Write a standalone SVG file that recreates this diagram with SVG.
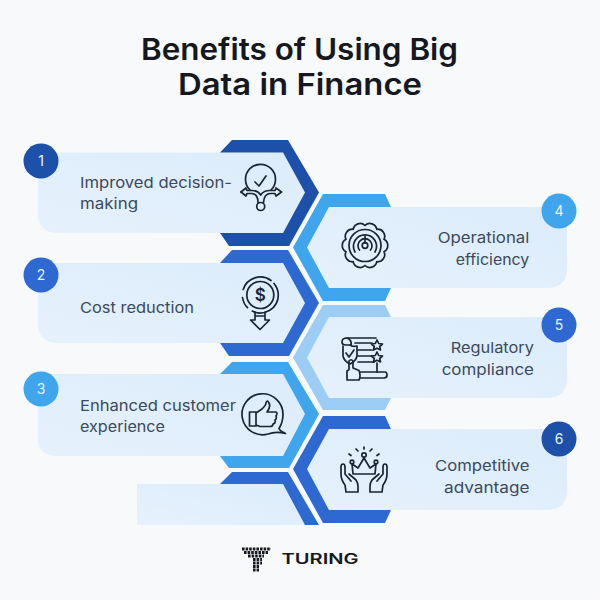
<svg xmlns="http://www.w3.org/2000/svg" width="600" height="600" viewBox="0 0 600 600">
<style>
text{font-family:Inter,"Liberation Sans",sans-serif}
.t{font-size:30px;font-weight:600;fill:#15181e}
.l{font-size:15px;fill:#3b4a5c}
.n{font-size:14px;fill:#e8f3fd;text-anchor:middle}
.b{fill:url(#g)}
.i{fill:none;stroke:#1a2433;stroke-width:1.7;stroke-linecap:round;stroke-linejoin:round}
.d{fill:none;stroke:#15181e;stroke-width:2.8;stroke-dasharray:2.6 1}
.c1{fill:#1d50a8}.c2{fill:#2d69d0}.c3{fill:#3fa6ee}.c5{fill:#9ccdf5}
</style>
<defs><linearGradient id="g" x1="0" y1="1" x2="1" y2="0"><stop offset="0" stop-color="#e6f1fc"/><stop offset="1" stop-color="#dcecfb"/></linearGradient></defs>
<rect width="600" height="600" fill="#f8f9fb"/>
<g id="title">
<text class="t" x="141" y="60" textLength="317" lengthAdjust="spacingAndGlyphs">Benefits of Using Big</text>
<text class="t" x="178" y="95" textLength="244" lengthAdjust="spacingAndGlyphs">Data in Finance</text>
</g>
<g id="node-1">
<path class="b" d="M50 152.500H283L305 192.500L283 233H58Q38 233 38 213V164Q38 152.500 50 152.500Z"/>
<path class="c1" d="M220 152.500L232 140H288L319 192.500L289 246H229L220 233H283L305 192.500L283 152.500Z"/>
<circle class="c1" cx="41" cy="161" r="17.500"/><text class="n" x="41" y="166">1</text>
<text class="l" x="80" y="188" textLength="152" lengthAdjust="spacingAndGlyphs">Improved decision-</text>
<text class="l" x="80" y="209" textLength="58" lengthAdjust="spacingAndGlyphs">making</text>
<g class="i"><path d="M250 190A15 15 0 1 1 271 190"/><path d="M255 182L259 186L266 176"/><path d="M241 192L246 188L247 190.500H252Q258 190.500 260.700 195Q263.500 190.500 270 190.500H275L276 188L281.500 192L276 196L275 193.500H270Q264 194 263.500 202.500"/><path d="M241 192L246 196L247 193.500H252Q258 194 258 202.500"/><circle cx="260.700" cy="206.500" r="4"/></g>
</g>
<g id="node-2">
<path class="b" d="M50 263H283L305 303L283 343H58Q38 343 38 323V275Q38 263 50 263Z"/>
<path class="c2" d="M220 263L232 250H288L319 303L289 356H229L220 343H283L305 303L283 263Z"/>
<circle class="c2" cx="41" cy="275" r="17.500"/><text class="n" x="41" y="280">2</text>
<text class="l" x="80" y="313" textLength="114" lengthAdjust="spacingAndGlyphs">Cost reduction</text>
<g class="i"><circle cx="260.300" cy="295" r="13.500"/><path d="M243.200 289.500A18 18 0 0 1 271 280.500M274 283.500A18 18 0 0 1 278.300 295A18 18 0 0 1 252.300 311.100M247.500 307.700A18 18 0 0 1 242.500 297.500"/><path d="M255 312V320H250.500L260 329.500L269.500 320H265V312M255 316H265"/></g>
<text x="260.300" y="301" font-size="17" font-weight="600" fill="#1a2433" text-anchor="middle">$</text>
</g>
<g id="node-3">
<path class="b" d="M50 374H283L305 414L283 456H58Q38 456 38 440V386Q38 374 50 374Z"/>
<path class="c3" d="M220 374L232 362H288L319 414L289 468H229L220 456H283L305 414L283 374Z"/>
<circle class="c3" cx="41" cy="389" r="17.500"/><text class="n" x="41" y="394">3</text>
<text class="l" x="80" y="411" textLength="156" lengthAdjust="spacingAndGlyphs">Enhanced customer</text>
<text class="l" x="80" y="432" textLength="85" lengthAdjust="spacingAndGlyphs">experience</text>
<g class="i"><path d="M279 428.500Q283 422 283 414.500A20.500 20.500 0 1 0 268 434Q276 431 285.500 433.500Q280 431 279 428.500Z"/><path d="M249.500 412H256V426H249.500ZM256 413L262 409Q266 405 266 403Q267 399 269 403Q271 407 267 412H276Q278 413 276 416Q277 419 275 420Q276 423 273 424Q273 426.500 270 426.500H260L256 425"/></g>
</g>
<g id="node-7">
<path class="b" d="M137 484H283L305 525H137Z"/>
<path class="c2" d="M220 484L232 472H288L319 525H305L283 484Z"/>
</g>
<g id="node-4">
<path class="b" d="M329 207H548Q567 207 567 225V268Q567 288 547 288H329L307 247.500Z"/>
<path class="c3" d="M391 207L385 194H323L293 247.500L323 301H385L391 288H329L307 247.500L329 207Z"/>
<circle class="c3" cx="559" cy="211" r="17.500"/><text class="n" x="559" y="216">4</text>
<text class="l" x="437.700" y="243.300" textLength="91.600" lengthAdjust="spacingAndGlyphs">Operational</text>
<text class="l" x="455.700" y="265" textLength="73.600" lengthAdjust="spacingAndGlyphs">efficiency</text>
<g class="i"><path d="M384 251.700A7 7 0 0 1 376.800 261.700A7 7 0 0 1 365 265.500A7 7 0 0 1 353.200 261.700A7 7 0 0 1 346 251.700A7 7 0 0 1 346 239.300A7 7 0 0 1 353.200 229.300A7 7 0 0 1 365 225.500A7 7 0 0 1 376.800 229.300A7 7 0 0 1 384 239.300A7 7 0 0 1 384 251.700Z"/><circle cx="365" cy="245.500" r="16"/><path d="M355 252A11.500 11.500 0 1 1 375 252M359.500 250A7 7 0 1 1 370.500 250"/><circle cx="365" cy="245.500" r="2.800"/><path d="M365 243V236"/></g>
</g>
<g id="node-5">
<path class="b" d="M329 317H548Q567 317 567 335V378Q567 398 547 398H329L307 357.500Z"/>
<path class="c5" d="M391 317L385 305H323L293 357.500L323 410H385L391 398H329L307 357.500L329 317Z"/>
<circle class="c2" cx="559" cy="325" r="17.500"/><text class="n" x="559" y="330">5</text>
<text class="l" x="450.700" y="353.300" textLength="83.300" lengthAdjust="spacingAndGlyphs">Regulatory</text>
<text class="l" x="441.700" y="375" textLength="92.300" lengthAdjust="spacingAndGlyphs">compliance</text>
<g class="i"><path d="M347 338H376"/><path d="M347 338Q342 338 342 342Q342 345 346 345H351Q352 340 347 338Z"/><path d="M343 346V356Q344 361 350 364Q356 361 357 356V346Q352 347 350 345"/><path d="M346 353L349 357L354 350"/><path d="M355 343H372M358 350H372M358 356H372M358 362H374"/><path d="M360 372H385Q387 372 387 375Q387 378 384 378H360"/><path d="M377 340L378.700 343.500L382.500 344L379.700 346.500L380.500 350L377 348.200L373.500 350L374.300 346.500L371.500 344L375.300 343.500ZM377 352L378.700 355.500L382.500 356L379.700 358.500L380.500 362L377 360.200L373.500 362L374.300 358.500L371.500 356L375.300 355.500Z"/><path d="M377 363V372"/><path d="M347 380V371L349 369.500V361Q351 358.500 353 361V368L359 370.500Q361 376 359 380ZM347 380H359"/></g>
</g>
<g id="node-6">
<path class="b" d="M329 429H548Q567 429 567 447V490Q567 510 547 510H329L307 469Z"/>
<path class="c2" d="M391 429L385 416H323L293 469L323 523H385L391 510H329L307 469L329 429Z"/>
<circle class="c1" cx="559" cy="439" r="17.500"/><text class="n" x="559" y="444">6</text>
<text class="l" x="435" y="471" textLength="94.500" lengthAdjust="spacingAndGlyphs">Competitive</text>
<text class="l" x="444" y="492.700" textLength="85.500" lengthAdjust="spacingAndGlyphs">advantage</text>
<g class="i"><path d="M353 474L352 464L358 468L364 458L370 468L376 464L375 474Z"/><circle cx="364" cy="455" r="2.200"/><circle cx="352" cy="462" r="1.800"/><circle cx="376" cy="462" r="1.800"/><path d="M364 447V449M356 449L358 451M372 449L370 451M349 454L351 455.500M379 454L377 455.500"/><g id="hand-l"><path d="M346 492L345 485Q341 480 341 474V467Q341 464 343 464Q345 464 345 467V474L351 481M349 474L356 480Q358 483 358 486V492M346 492H358"/></g><path transform="matrix(-1 0 0 1 728 0)" d="M346 492L345 485Q341 480 341 474V467Q341 464 343 464Q345 464 345 467V474L351 481M349 474L356 480Q358 483 358 486V492M346 492H358"/></g>
</g>
<g id="logo">
<path class="d" d="M242 549H271M244 552.500H268M248 556H264"/>
<path class="d" d="M253 559.500H262M253 563H262M253 566.500H259M253 570H259"/>
<text x="281.500" y="564" font-size="14" font-weight="600" fill="#15181e" textLength="77" lengthAdjust="spacingAndGlyphs">TURING</text>
</g>
</svg>
